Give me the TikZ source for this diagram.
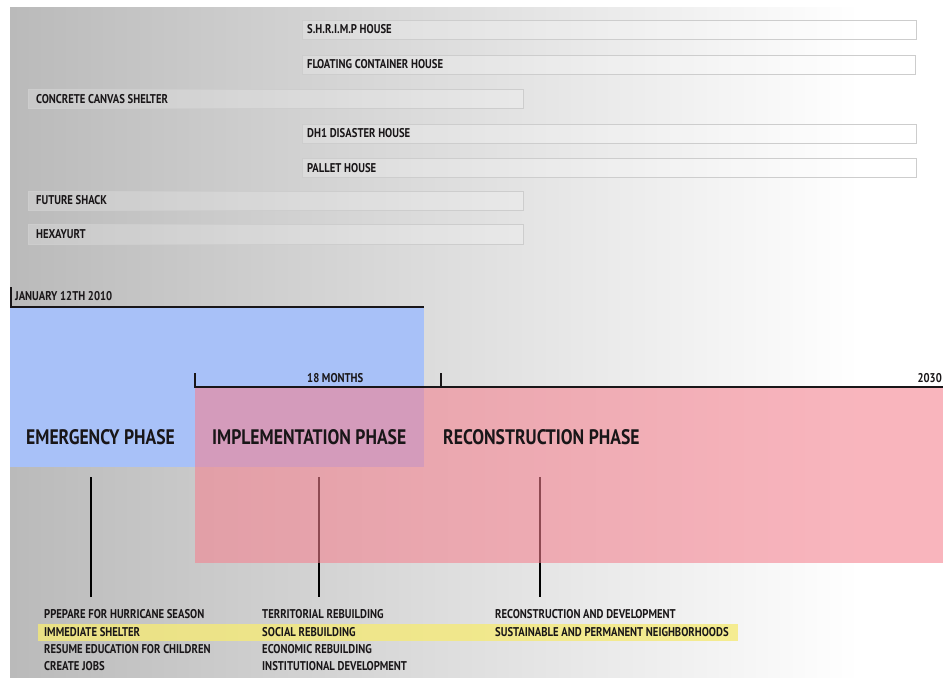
\documentclass[tikz,border=0pt]{standalone}
\usepackage{fontspec}
\setmainfont[FakeStretch=0.84]{PT Sans}
\definecolor{bgL}{RGB}{186,186,186}
\definecolor{txt}{RGB}{25,22,24}
\definecolor{phblue}{RGB}{168,193,248}
\definecolor{phpink}{RGB}{245,129,143}
\definecolor{hl}{RGB}{245,234,120}
\definecolor{barline}{RGB}{205,205,205}
\begin{document}
\begin{tikzpicture}[x=1pt,y=-1pt,
  lbl/.style={anchor=west,inner sep=0pt,font=\bfseries\fontsize{12.7}{14}\selectfont,text=txt},
  phase/.style={anchor=west,inner sep=0pt,font=\bfseries\fontsize{21}{24}\selectfont,text=txt},
  bar/.style={draw=barline,line width=0.8pt,fill=white,fill opacity=0.2},
  vline/.style={line width=2.8pt,draw=black},
  axisline/.style={line width=1.6pt,draw=txt}]
\useasboundingbox (0,0) rectangle (943,681);
% background
\fill[left color=bgL,right color=white] (10,7) rectangle (860,677);
\fill[white] (860,7) rectangle (943,677);
% shelter bars
\draw[bar] (302,20) rectangle (916,39);
\node[lbl] (shrimp) at (307,29.5) {S.H.R.I.M.P HOUSE};
\draw[bar] (302,55) rectangle (915,74);
\node[lbl] (float) at (307,64.5) {FLOATING CONTAINER HOUSE};
\draw[bar] (28,89) rectangle (523,108);
\node[lbl] (canvas) at (36,99) {CONCRETE CANVAS SHELTER};
\draw[bar] (302,124) rectangle (916,143);
\node[lbl] (dh1) at (307,133.5) {DH1 DISASTER HOUSE};
\draw[bar] (302,158) rectangle (916,177);
\node[lbl] (pallet) at (307,168) {PALLET HOUSE};
\draw[bar] (28,191) rectangle (523,210);
\node[lbl] (shack) at (36,200.5) {FUTURE SHACK};
\draw[bar] (28,224) rectangle (523,244);
\node[lbl] (hexa) at (36,234) {HEXAYURT};
% emergency block
\fill[phblue] (10,307) rectangle (424,467);
\coordinate (t0) at (11,287);
\coordinate (t0b) at (11,307);
\coordinate (t0e) at (424,307);
\draw[axisline] (t0) -- (t0b) -- (t0e);
\node[lbl] (jan) at (15,296) {JANUARY 12TH 2010};
% vertical connectors (under pink)
\coordinate (v1a) at (91,477); \coordinate (v1b) at (91,597);
\coordinate (v2a) at (319,477); \coordinate (v2b) at (319,597);
\coordinate (v3a) at (540,477); \coordinate (v3b) at (540,597);
\draw[vline] (v1a) -- (v1b);
\draw[vline] (v2a) -- (v2b);
\draw[vline] (v3a) -- (v3b);
% reconstruction block
\fill[phpink,fill opacity=0.58] (195,387) rectangle (943,563);
\coordinate (t1) at (195,373);
\coordinate (t1b) at (195,387);
\coordinate (t1e) at (943,387);
\coordinate (t2) at (441,373);
\coordinate (t2b) at (441,387);
\draw[axisline] (t1) -- (t1b) -- (t1e);
\draw[axisline] (t2) -- (t2b);
\node[lbl] (months) at (307,378) {18 MONTHS};
\node[lbl,anchor=east] (y2030) at (942,378) {2030};
% phase titles
\node[phase] (emerg) at (26,437) {EMERGENCY PHASE};
\node[phase] (impl) at (212,437) {IMPLEMENTATION PHASE};
\node[phase] (recon) at (443,437) {RECONSTRUCTION PHASE};
% highlight band
\fill[hl,fill opacity=0.8] (38,624) rectangle (738,641);
% lists
\node[lbl] (a1) at (44,614) {PPEPARE FOR HURRICANE SEASON};
\node[lbl] (a2) at (44,632) {IMMEDIATE SHELTER};
\node[lbl] (a3) at (44,649.5) {RESUME EDUCATION FOR CHILDREN};
\node[lbl] (a4) at (44,666.5) {CREATE JOBS};
\node[lbl] (b1) at (262,614) {TERRITORIAL REBUILDING};
\node[lbl] (b2) at (262,632) {SOCIAL REBUILDING};
\node[lbl] (b3) at (262,649.5) {ECONOMIC REBUILDING};
\node[lbl] (b4) at (262,666.5) {INSTITUTIONAL DEVELOPMENT};
\node[lbl] (c1) at (495,614) {RECONSTRUCTION AND DEVELOPMENT};
\node[lbl] (c2) at (495,632) {SUSTAINABLE AND PERMANENT NEIGHBORHOODS};
\end{tikzpicture}
\end{document}
